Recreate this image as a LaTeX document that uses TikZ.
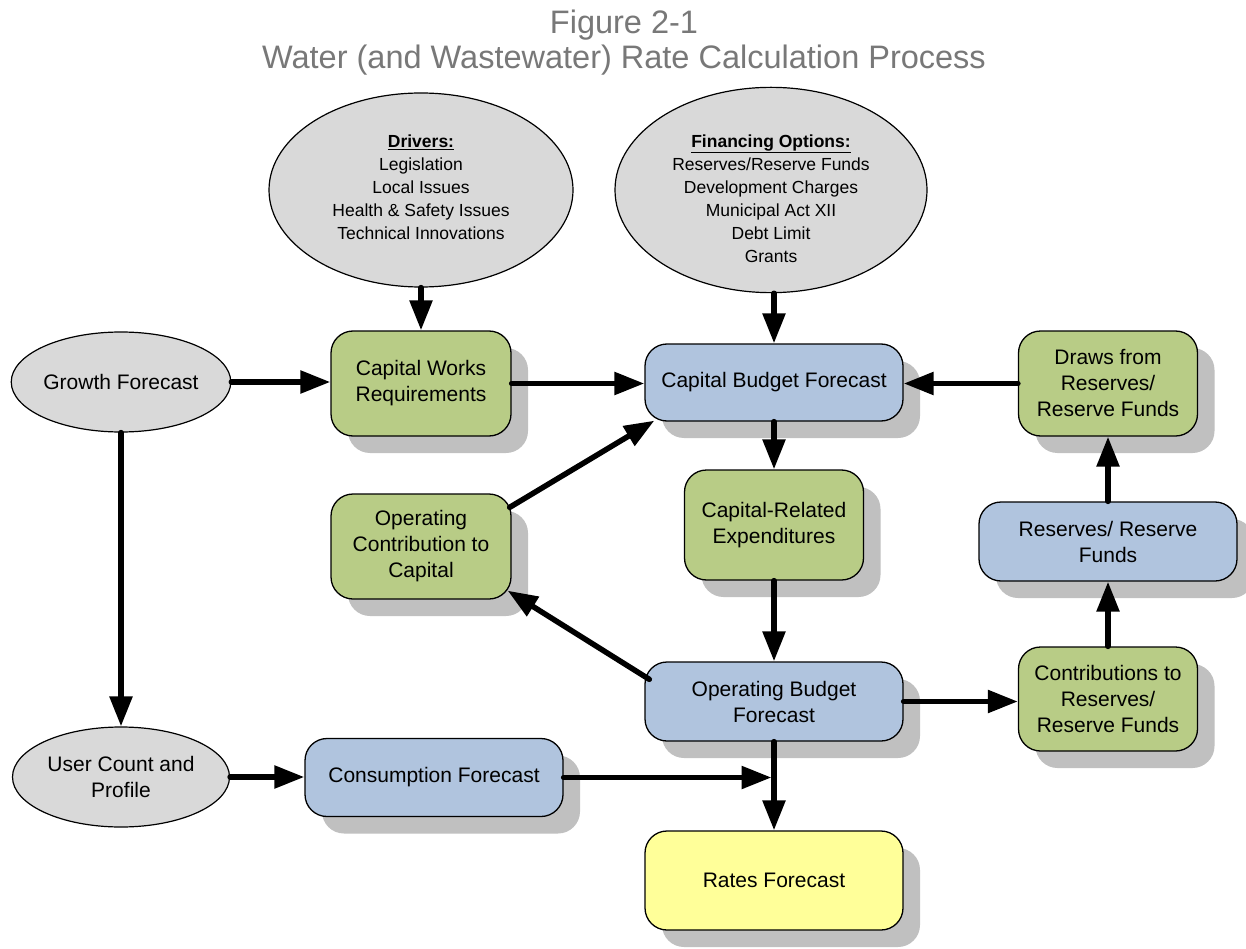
\documentclass[tikz,border=0pt]{standalone}
\usepackage{fontspec}
\setmainfont{Liberation Sans}
\usetikzlibrary{arrows.meta,shapes.geometric,calc,shadows}
\definecolor{boxgreen}{RGB}{184,204,134}
\definecolor{boxblue}{RGB}{176,196,222}
\definecolor{boxyellow}{RGB}{255,255,153}
\definecolor{ellgray}{RGB}{217,217,217}
\definecolor{shgray}{RGB}{192,192,192}
\definecolor{titlegray}{RGB}{120,120,120}
\tikzset{
  basebox/.style={draw=black, line width=1.3pt, rounded corners=22pt, align=center, inner sep=0pt,
    font=\fontsize{21}{26}\selectfont,
    drop shadow={shadow xshift=17pt, shadow yshift=-17pt, fill=shgray, opacity=1}},
  gbox/.style={basebox, fill=boxgreen},
  bbox/.style={basebox, fill=boxblue},
  ybox/.style={basebox, fill=boxyellow},
  ell/.style={ellipse, draw=black, line width=1.2pt, fill=ellgray, align=center, inner sep=0pt,
    font=\fontsize{21}{26}\selectfont, minimum width=217pt, minimum height=100pt},
  bigell/.style={ellipse, draw=black, line width=1.2pt, fill=ellgray, align=center, inner sep=0pt,
    font=\fontsize{17.5}{23}\selectfont, minimum height=194pt},
  arr/.style={line width=5.5pt, line cap=round, -{Triangle[length=30pt,width=22pt]}},
  ttl/.style={align=center, text=titlegray, font=\fontsize{32.5}{35}\selectfont, inner sep=0pt}
}
\begin{document}
\begin{tikzpicture}[x=1pt,y=-1pt]
\useasboundingbox[fill=white] (0,0) rectangle (1246,949);

\node[ttl] (title) at (624,43) {Figure 2-1\\Water (and Wastewater) Rate Calculation Process};

\node[bigell, minimum width=304pt] (drv) at (421,190)
  {\underline{\textbf{Drivers:}}\\Legislation\\Local Issues\\Health \& Safety Issues\\Technical Innovations\rule[-6pt]{0pt}{6pt}};
\node[bigell, minimum width=312pt] (fin) at (771,190)
  {\rule{0pt}{30pt}\underline{\textbf{Financing Options:}}\\Reserves/Reserve Funds\\Development Charges\\Municipal Act XII\\Debt Limit\\Grants};

\node[ell] (gf) at (121,382) {Growth Forecast};
\node[ell] (uc) at (121,777) {User Count and\\Profile};

\node[gbox, minimum width=180pt, minimum height=105pt] (cw) at (421,383.5) {Capital Works\\Requirements};
\node[bbox, minimum width=258pt, minimum height=77pt] (cb) at (774,382.5) {Capital Budget Forecast};
\node[gbox, minimum width=179pt, minimum height=105pt] (dr) at (1108,383.5) {Draws from\\Reserves/\\Reserve Funds};
\node[gbox, minimum width=179pt, minimum height=110pt] (cr) at (774,525) {Capital-Related\\Expenditures};
\node[bbox, minimum width=258pt, minimum height=79pt] (rr) at (1108,541.5) {Reserves/ Reserve\\Funds};
\node[gbox, minimum width=180pt, minimum height=105pt] (oc) at (421,546.5) {Operating\\Contribution to\\Capital};
\node[bbox, minimum width=258pt, minimum height=79pt] (ob) at (774,701.5) {Operating Budget\\Forecast};
\node[gbox, minimum width=179pt, minimum height=104pt] (ct) at (1108,699) {Contributions to\\Reserves/\\Reserve Funds};
\node[bbox, minimum width=258pt, minimum height=78pt] (cf) at (434,777.5) {Consumption Forecast};
\node[ybox, minimum width=258pt, minimum height=99pt] (rf) at (774,880.5) {Rates Forecast};

\draw[arr] (drv.south) -- (cw.north);
\draw[arr] (fin.south -| cb.north) -- (cb.north);
\draw[arr] (gf.east) -- (gf.east -| cw.west);
\draw[arr] (cw.east) -- (cw.east -| cb.west);
\draw[arr] (dr.west) -- (dr.west -| cb.east);
\draw[arr] (cb.south) -- (cr.north);
\draw[arr] (cr.south) -- (ob.north);
\draw[arr] ($(oc.north east)+(-2,14)$) -- ($(cb.south west)+(10,-1)$);
\draw[arr] ($(ob.north west)+(5,18)$) -- ($(oc.south east)+(-4,-9)$);
\draw[arr] (ob.east) -- (ob.east -| ct.west);
\draw[arr] (ct.north) -- (rr.south);
\draw[arr] (rr.north) -- (dr.south);
\draw[arr] (gf.south) -- (uc.north);
\draw[arr] (uc.east) -- (uc.east -| cf.west);
\coordinate (jn) at (cf.east -| ob.south);
\draw[arr, shorten >=2.5pt] (cf.east) -- (jn);
\draw[arr] (ob.south) -- (rf.north);
\end{tikzpicture}
\end{document}
